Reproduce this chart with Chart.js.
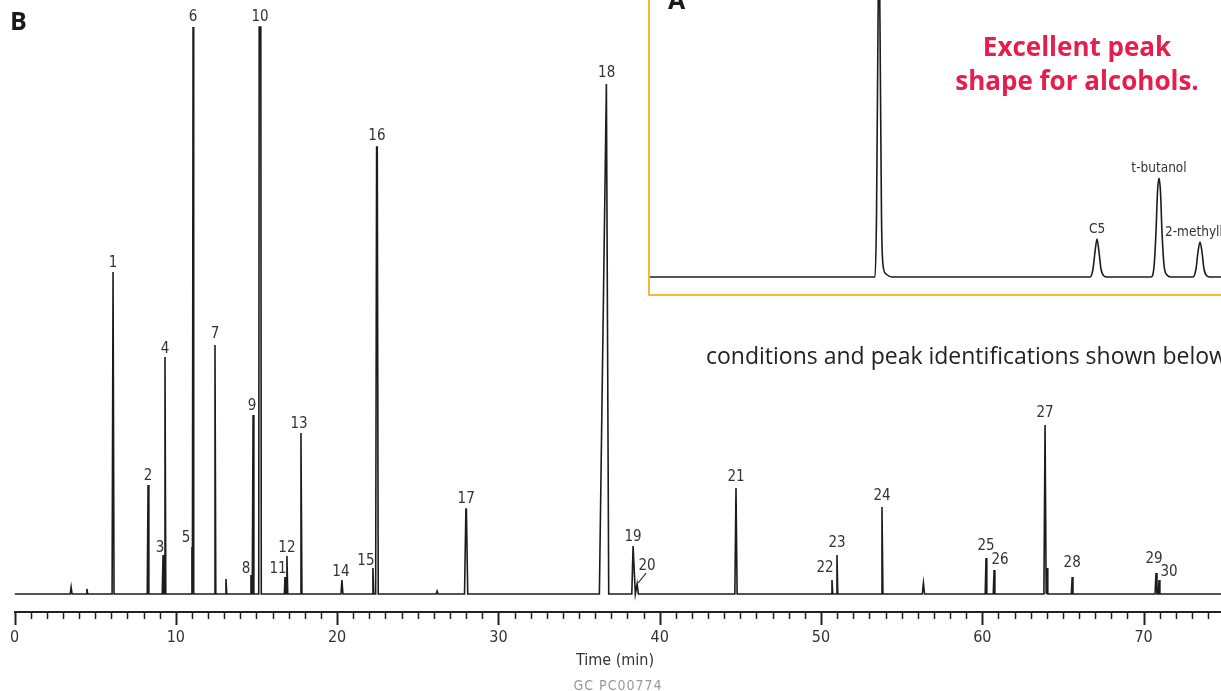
<!DOCTYPE html>
<html>
<head>
<meta charset="utf-8">
<script src="https://cdn.jsdelivr.net/npm/chart.js@4.4.1/dist/chart.umd.min.js"></script>
<style>
  html, body { margin: 0; padding: 0; background: #fff; }
  #wrap { position: relative; width: 1221px; height: 691px; overflow: hidden; background: #fff; }
  #main { position: absolute; left: 0; top: 0; }
  #insetBox { position: absolute; left: 648px; top: -20px; width: 720px; height: 316px;
              border: 2px solid #f6b73c; background: #fff; box-sizing: border-box; }
  #inset { position: absolute; left: 0; top: 0; }
  .txt { position: absolute; white-space: nowrap; line-height: 1; transform: translate(-50%, -50%); }
  .panel { font-family: "Open Sans", Lato, sans-serif; font-weight: 700; font-size: 25px; color: #1a1a1a; transform: none; }
  .red { font-family: "Open Sans", Lato, sans-serif; font-weight: 700; font-size: 26px; color: #e61e4d; }
  .cond { font-family: "Open Sans", Lato, sans-serif; font-size: 23px; color: #222; transform: translate(0, -50%); }
  .narrow { font-family: "Liberation Sans Narrow", "DejaVu Sans Condensed", sans-serif; }
</style>
</head>
<body>
<div id="wrap">
  <canvas id="main" width="1240" height="691"></canvas>
  <div id="insetBox"><canvas id="inset" width="716" height="312"></canvas></div>
  <div class="txt panel" style="left:10px; top:8px;">B</div>
  <div class="txt panel" style="left:668px; top:-13px;">A</div>
  <div class="txt red" style="left:1077px; top:46px;">Excellent peak</div>
  <div class="txt red" style="left:1077px; top:80px;">shape for alcohols.</div>
  <div class="txt cond" style="left:706px; top:355px;">conditions and peak identifications shown below</div>
  <div class="txt narrow" style="left:615px; top:660px; font-size:16px; color:#333;">Time (min)</div>
  <div class="txt narrow" style="left:618px; top:685px; font-size:14px; color:#999; letter-spacing:1px;">GC PC00774</div>
</div>
<script>
// ---- chromatogram B: labelled peaks ----
const peakLabels  = ['1','2','3','4','5','6','7','8','9','10','11','12','13','14','15',
                     '16','17','18','19','20','21','22','23','24','25','26','27','28','29','30'];
const peakTimes   = [6.11, 8.28, 9.21, 9.33, 11.00, 11.07, 12.43, 14.66, 14.79, 15.22, 16.77, 16.89, 17.76, 20.30, 22.22,
                     22.47, 28.00, 36.71, 38.35, 38.60, 44.73, 50.68, 50.99, 53.78, 60.23, 60.73, 63.89, 65.57, 70.77, 70.96];
const peakHeights = [322, 109, 39, 237, 47, 567, 249, 19, 179, 567, 17, 38, 161, 14, 26,
                     447, 85, 510, 48, 10, 106, 14, 39, 87, 36, 24, 169, 17, 21, 14];
// rise and fall half-widths, and flat-top width of each peak (min)
const peakFront   = [0.06, 0.05, 0.05, 0.05, 0.03, 0.04, 0.05, 0.04, 0.05, 0.08, 0.04, 0.05, 0.06, 0.06, 0.05,
                     0.08, 0.10, 0.45, 0.08, 0.08, 0.07, 0.05, 0.05, 0.06, 0.05, 0.05, 0.07, 0.05, 0.06, 0.05];
const peakTail    = [0.06, 0.05, 0.05, 0.05, 0.03, 0.04, 0.05, 0.04, 0.05, 0.08, 0.04, 0.05, 0.06, 0.06, 0.05,
                     0.08, 0.10, 0.13, 0.14, 0.08, 0.07, 0.05, 0.05, 0.06, 0.05, 0.05, 0.07, 0.05, 0.06, 0.05];
const peakTops    = [0, 0, 0, 0, 0, 0, 0, 0, 0, 0.10, 0, 0, 0, 0, 0,
                     0.04, 0.03, 0.03, 0, 0, 0, 0, 0, 0, 0, 0, 0, 0, 0, 0];
// small unlabelled blips on the baseline
const minorTimes   = [3.51, 4.49, 13.11, 26.2, 56.35, 64.02];
const minorHeights = [7, 5, 15, 3, 11, 26];
const minorWidths  = [0.12, 0.1, 0.1, 0.12, 0.14, 0.08];

const timeLabels = [0, 10, 20, 30, 40, 50, 60, 70];

// label nudges (px) where the figure sets a number beside its peak
const labelDx = [0,0,-3,0,-6,0,0,-5,-1,0,-7,0,-2,-1,-7, 0,0,0,0,10,0,-7,0,0,0,6,0,0,-2,10];
const labelDy = [1,1,3,2,1,0,-1,4,1,0,2,2,1,2,3, -1,0,-1,1,-8,-1,-2,-2,-1,-2,0,-2,-4,-4,2];

// ---- inset A ----
const insetTime   = [0.00, 2.25, 2.265, 2.28, 2.29, 2.30, 2.315, 2.33, 2.36, 2.42,
                     4.40, 4.43, 4.45, 4.47, 4.49, 4.51, 4.54, 4.57,
                     5.01, 5.04, 5.06, 5.075, 5.09, 5.105, 5.12, 5.14, 5.17, 5.21,
                     5.43, 5.46, 5.48, 5.50, 5.52, 5.54, 5.57, 5.60, 7.20];
const insetSignal = [0, 0, 60, 250, 340, 250, 60, 12, 3, 0,
                     0, 8, 25, 38, 25, 8, 1, 0,
                     0, 10, 45, 85, 99, 85, 45, 12, 2, 0,
                     0, 8, 25, 35, 25, 8, 1, 0, 0];
const insetNames   = ['C5', 't-butanol', '2-methylbutan-2-ol'];
const insetPeakT   = [4.47, 5.09, 5.50];
const insetPeakH   = [38, 99, 35];

const narrowFont = '"Liberation Sans Narrow", "DejaVu Sans Condensed", sans-serif';

// build the trace from the peak tables
const peaks = peakTimes.map((t, i) => ({t, h: peakHeights[i], f: peakFront[i], r: peakTail[i], a: peakTops[i]}))
  .concat(minorTimes.map((t, i) => ({t, h: minorHeights[i], f: minorWidths[i] / 2, r: minorWidths[i] / 2, a: 0})))
  .sort((p, q) => p.t - q.t);
const trace = [{x: 0, y: 0}];
peaks.forEach(p => {
  trace.push({x: p.t - p.f, y: 0});
  trace.push({x: p.t - p.a / 2, y: p.h});
  if (p.a > 0) trace.push({x: p.t + p.a / 2, y: p.h});
  trace.push({x: p.t + p.r, y: 0});
});
trace.push({x: 75, y: 0});

const tickMarks = {
  id: 'tickMarks',
  afterDraw(chart) {
    const sx = chart.scales.x, ctx = chart.ctx, y0 = chart.chartArea.bottom;
    ctx.save();
    ctx.strokeStyle = '#222';
    sx.ticks.forEach(tk => {
      const major = timeLabels.includes(tk.value);
      const px = Math.round(sx.getPixelForValue(tk.value)) + 0.5;
      ctx.lineWidth = major ? 2 : 1.5;
      ctx.beginPath();
      ctx.moveTo(px, y0);
      ctx.lineTo(px, y0 + (major ? 13 : 7));
      ctx.stroke();
    });
    ctx.restore();
  }
};

const peakNames = {
  id: 'peakNames',
  afterDatasetsDraw(chart) {
    const sx = chart.scales.x, sy = chart.scales.y, ctx = chart.ctx;
    ctx.save();
    ctx.font = '15px ' + narrowFont;
    ctx.fillStyle = '#333';
    ctx.textAlign = 'center';
    ctx.textBaseline = 'middle';
    peakLabels.forEach((lab, i) => {
      const x = sx.getPixelForValue(peakTimes[i]) + labelDx[i];
      const y = sy.getPixelForValue(peakHeights[i]) - 10 + labelDy[i];
      ctx.fillText(lab, x, y);
      if (lab === '20') {
        ctx.strokeStyle = '#222';
        ctx.lineWidth = 1.2;
        ctx.beginPath();
        ctx.moveTo(x - 9, y + 17);
        ctx.lineTo(x - 1, y + 7);
        ctx.stroke();
      }
    });
    ctx.restore();
  }
};

new Chart(document.getElementById('main'), {
  type: 'line',
  data: {
    datasets: [{
      data: trace,
      borderColor: '#1c1c1c',
      borderWidth: 1.6,
      pointRadius: 0,
      tension: 0,
      fill: false,
    }],
  },
  options: {
    responsive: false,
    animation: false,
    layout: { padding: { left: 14.5, right: 15.75, top: 0, bottom: 0 } },
    plugins: { legend: { display: false }, tooltip: { enabled: false } },
    scales: {
      x: {
        type: 'linear',
        min: 0,
        max: 75,
        border: { display: true, color: '#222', width: 2 },
        // tick marks are drawn by the plugin; the invisible ones only space the labels
        grid: { display: true, drawOnChartArea: false, drawTicks: true, tickLength: 16, tickColor: 'rgba(0,0,0,0)' },
        ticks: {
          stepSize: 1,
          autoSkip: false,
          maxRotation: 0,
          padding: 0,
          color: '#333',
          font: { family: narrowFont, size: 16 },
          callback: (v) => timeLabels.includes(v) ? String(v) : '',
        },
        afterFit: (scale) => { scale.height = 79; },
      },
      y: { display: false, min: -18, max: 594 },
    },
  },
  plugins: [tickMarks, peakNames],
});

const insetNamesPlugin = {
  id: 'insetNames',
  afterDatasetsDraw(chart) {
    const sx = chart.scales.x, sy = chart.scales.y, ctx = chart.ctx;
    ctx.save();
    ctx.font = '13.5px ' + narrowFont;
    ctx.fillStyle = '#333';
    ctx.textBaseline = 'middle';
    insetNames.forEach((name, i) => {
      const x = sx.getPixelForValue(insetPeakT[i]);
      const y = sy.getPixelForValue(insetPeakH[i]) - 10;
      if (i === 2) {
        ctx.textAlign = 'left';
        ctx.fillText(name, x - 35, y);
      } else {
        ctx.textAlign = 'center';
        ctx.fillText(name, x, y);
      }
    });
    ctx.restore();
  }
};

new Chart(document.getElementById('inset'), {
  type: 'line',
  data: {
    datasets: [{
      data: insetTime.map((t, i) => ({x: t, y: insetSignal[i]})),
      borderColor: '#1c1c1c',
      borderWidth: 1.6,
      pointRadius: 0,
      cubicInterpolationMode: 'monotone',
      fill: false,
    }],
  },
  options: {
    responsive: false,
    animation: false,
    layout: { padding: 0 },
    plugins: { legend: { display: false }, tooltip: { enabled: false } },
    scales: {
      x: { type: 'linear', display: false, min: 0, max: 7.16 },
      y: { display: false, min: -17, max: 295 },
    },
  },
  plugins: [insetNamesPlugin],
});
</script>
</body>
</html>
